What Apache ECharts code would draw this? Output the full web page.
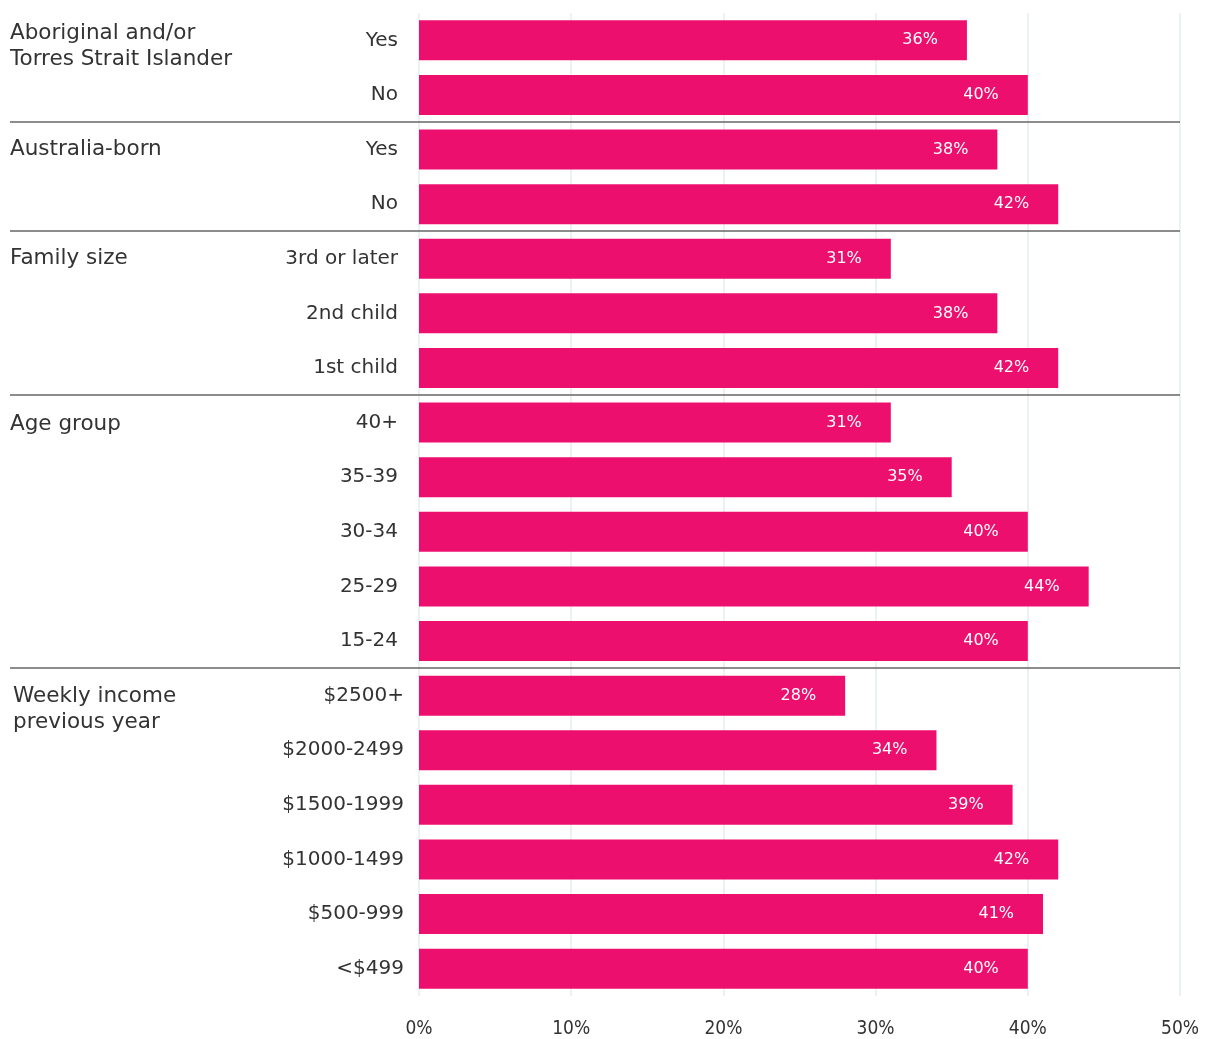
<!DOCTYPE html>
<html>
<head>
<meta charset="utf-8">
<script src="https://cdn.jsdelivr.net/npm/echarts@6/dist/echarts.min.js"></script>
<style>
  html, body { margin: 0; padding: 0; background: #fff; }
  #chart { width: 1205px; height: 1039px; }
</style>
</head>
<body>
<div id="chart"></div>
<script>
// Groups of rows, top to bottom
const groupNames = ['Aboriginal and/or\nTorres Strait Islander', 'Australia-born', 'Family size', 'Age group', 'Weekly income\nprevious year'];
const groupSizes = [2, 2, 3, 5, 6];

// Row labels, top to bottom
const categories = [
  'Yes', 'No',
  'Yes', 'No',
  '3rd or later', '2nd child', '1st child',
  '40+', '35-39', '30-34', '25-29', '15-24',
  '$2500+', '$2000-2499', '$1500-1999', '$1000-1499', '$500-999', '<$499'
];

// Share (%) for each row
const values = [
  36, 40,
  38, 42,
  31, 38, 42,
  31, 35, 40, 44, 40,
  28, 34, 39, 42, 41, 40
];

const xTicks = [0, 10, 20, 30, 40, 50];

const FONT = '"DejaVu Sans", "Open Sans", sans-serif';
const PINK = '#ED0F6E';
const incomeStart = groupSizes.slice(0, 4).reduce((a, b) => a + b, 0);
// vertical nudge of each group heading relative to its first row
const headingNudge = [-7, 0, 0, 2, 1];

const chart = echarts.init(document.getElementById('chart'));

const option = {
  animation: false,
  grid: { left: 419, right: 25, top: 13, bottom: 40, containLabel: false },
  xAxis: {
    type: 'value',
    min: xTicks[0],
    max: xTicks[xTicks.length - 1],
    interval: 10,
    axisLine: { show: false },
    axisTick: { show: false },
    splitLine: { show: true, lineStyle: { color: '#e6eef0', width: 1.5 } },
    axisLabel: {
      formatter: v => v + '%',
      color: '#333',
      fontSize: 19,
      fontFamily: '"Liberation Sans Narrow", "DejaVu Sans Condensed", sans-serif',
      margin: 24
    }
  },
  yAxis: {
    type: 'category',
    inverse: true,
    data: categories,
    axisLine: { show: false },
    axisTick: { show: false },
    axisLabel: {
      margin: 15,
      formatter: (v, i) => (i < incomeStart ? '{a|' + v + '}' : '{b|' + v + '}'),
      rich: {
        a: { color: '#333', fontSize: 20, fontFamily: FONT, padding: [0, 6, 0, 0] },
        b: { color: '#333', fontSize: 20, fontFamily: FONT }
      }
    }
  },
  series: [{
    type: 'bar',
    data: values,
    barWidth: 40,
    itemStyle: { color: PINK },
    label: {
      show: true,
      position: 'insideRight',
      distance: 29,
      formatter: p => p.value + '%',
      color: '#fff',
      fontSize: 16,
      fontFamily: FONT
    },
    z: 3
  }]
};

chart.setOption(option);

// Group headings and separator rules, placed from the category scale
function drawGroups() {
  const elements = [];
  const rightX = chart.convertToPixel({ xAxisIndex: 0 }, xTicks[xTicks.length - 1]);
  let start = 0;
  groupNames.forEach((name, g) => {
    const yFirst = chart.convertToPixel({ yAxisIndex: 0 }, start);
    elements.push({
      type: 'text',
      x: g === groupNames.length - 1 ? 13 : 10,
      y: yFirst - 13 + headingNudge[g],
      style: {
        text: name,
        fill: '#333',
        font: '21.5px ' + FONT,
        lineHeight: 26,
        textVerticalAlign: 'top'
      },
      z: 10
    });
    start += groupSizes[g];
    if (g < groupNames.length - 1) {
      const yA = chart.convertToPixel({ yAxisIndex: 0 }, start - 1);
      const yB = chart.convertToPixel({ yAxisIndex: 0 }, start);
      const ySep = Math.round((yA + yB) / 2);
      elements.push({
        type: 'line',
        shape: { x1: 10, y1: ySep, x2: rightX, y2: ySep },
        style: { stroke: '#666', lineWidth: 1.5 },
        z: 1
      });
    }
  });
  chart.setOption({ graphic: elements });
}
drawGroups();
</script>
</body>
</html>
